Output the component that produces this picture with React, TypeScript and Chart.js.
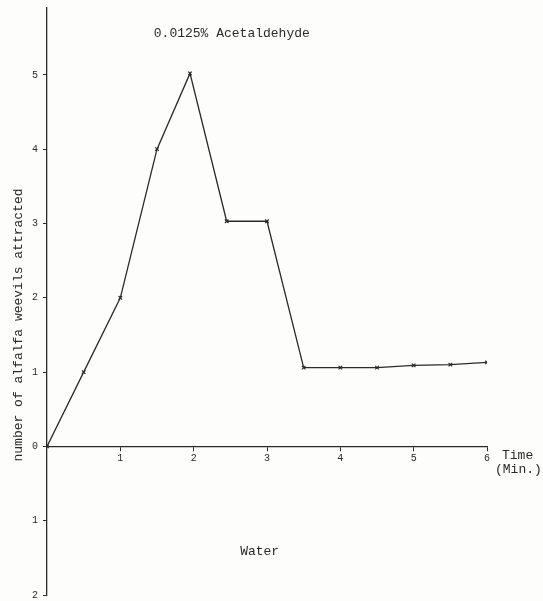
import React, { useEffect, useRef } from "react";
import { Chart, registerables } from "chart.js";

Chart.register(...registerables);

const timeMin = [0, 0.5, 1, 1.5, 1.95, 2.45, 3, 3.5, 4, 4.5, 5, 5.5, 6];
const weevils = [0, 1, 2, 4, 5.02, 3.03, 3.03, 1.06, 1.06, 1.06, 1.09, 1.1, 1.13];
const xTickValues = [1, 2, 3, 4, 5, 6];
const yTickValues = [-2, -1, 0, 1, 2, 3, 4, 5];
const chartTitle = "0.0125% Acetaldehyde";
const lowerLabel = "Water";
const yTitle = "number of alfalfa weevils attracted";
const xTitleLines = ["Time", "(Min.)"];

const MONO = "'Liberation Mono', 'DejaVu Sans Mono', monospace";
const INK = "#2a2a2a";

const textPlugin = {
  id: "texts",
  beforeDraw(chart: any) {
    const { ctx, width, height } = chart;
    ctx.save();
    ctx.fillStyle = "#fdfdfc";
    ctx.fillRect(0, 0, width, height);
    ctx.restore();
  },
  afterDraw(chart: any) {
    const { ctx } = chart;
    const x = chart.scales.x;
    const y = chart.scales.y;
    ctx.save();
    ctx.fillStyle = INK;
    ctx.font = `13px ${MONO}`;
    ctx.textBaseline = "middle";
    ctx.textAlign = "center";
    ctx.fillText(chartTitle, x.getPixelForValue(2.52), y.getPixelForValue(5.55));
    ctx.fillText(lowerLabel, x.getPixelForValue(2.9), y.getPixelForValue(-1.41));
    ctx.textAlign = "left";
    ctx.fillText(xTitleLines[0], 502, y.getPixelForValue(0) + 9);
    ctx.fillText(xTitleLines[1], 495, y.getPixelForValue(0) + 23);
    ctx.translate(19, 325);
    ctx.rotate(-Math.PI / 2);
    ctx.textAlign = "center";
    ctx.fillText(yTitle, 0, 0);
    ctx.restore();
  },
};

export default function App() {
  const ref = useRef<HTMLCanvasElement | null>(null);
  useEffect(() => {
    if (!ref.current) return;
    const chart = new Chart(ref.current, {
      type: "line",
      data: {
        datasets: [
          {
            data: timeMin.map((t, i) => ({ x: t, y: weevils[i] })),
            borderColor: INK,
            borderWidth: 1.3,
            pointStyle: "crossRot",
            pointRadius: 2.5,
            pointBorderColor: INK,
            pointBorderWidth: 1.2,
            tension: 0,
          },
        ],
      },
      options: {
        animation: false,
        responsive: false,
        maintainAspectRatio: false,
        layout: { padding: { left: 0, right: 56, top: 8, bottom: 6 } },
        plugins: { legend: { display: false }, tooltip: { enabled: false }, title: { display: false } },
        scales: {
          x: {
            type: "linear",
            min: 0,
            max: 6,
            position: { y: 0 } as any,
            afterBuildTicks: (s: any) => {
              s.ticks = xTickValues.map((v) => ({ value: v }));
            },
            afterFit: (s: any) => {
              s.paddingLeft = 0;
              s.paddingRight = 0;
            },
            ticks: {
              color: INK,
              font: { family: MONO, size: 10 },
              padding: 2,
              maxRotation: 0,
              autoSkip: false,
            },
            grid: { display: true, drawOnChartArea: false, drawTicks: true, tickLength: 4, color: INK },
            border: { display: true, color: INK, width: 1.3 },
          },
          y: {
            type: "linear",
            min: -2,
            max: 5.9,
            position: "left",
            afterFit: (s: any) => {
              s.width = 47;
              s.paddingTop = 0;
              s.paddingBottom = 0;
            },
            afterBuildTicks: (s: any) => {
              s.ticks = yTickValues.map((v) => ({ value: v }));
            },
            ticks: {
              color: INK,
              font: { family: MONO, size: 10 },
              padding: 5,
              callback: (v: any) => String(Math.abs(Number(v))),
            },
            grid: { display: true, drawOnChartArea: false, drawTicks: true, tickLength: 4, color: INK },
            border: { display: true, color: INK, width: 1.3 },
          },
        },
      },
      plugins: [textPlugin],
    });
    return () => chart.destroy();
  }, []);
  return (
    <div style={{ position: "fixed", left: 0, top: 0, width: 543, height: 601 }}>
      <canvas ref={ref} width={543} height={601} style={{ width: 543, height: 601 }} />
    </div>
  );
}
